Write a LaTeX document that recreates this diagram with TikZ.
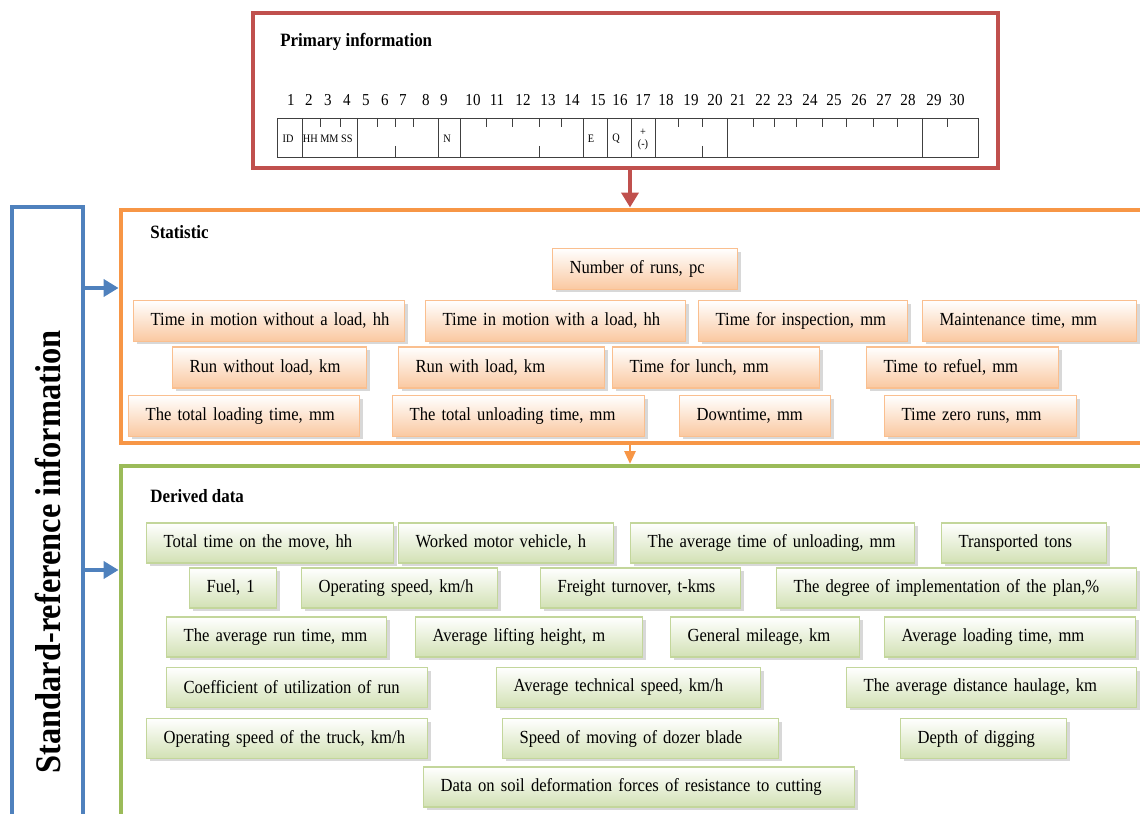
\documentclass[tikz,border=0pt]{standalone}
\usepackage{fontspec}
\setmainfont{Liberation Serif}[FakeStretch=0.9]
\usetikzlibrary{arrows.meta,shadows}

\definecolor{primred}{RGB}{192,80,77}
\definecolor{statorange}{RGB}{247,150,70}
\definecolor{derivgreen}{RGB}{155,187,89}
\definecolor{refblue}{RGB}{79,129,189}
\definecolor{statfill}{RGB}{250,200,160}
\definecolor{statline}{RGB}{250,191,143}
\definecolor{derivfill}{RGB}{210,225,180}
\definecolor{derivline}{RGB}{195,214,155}

\tikzset{
    frame/.style={draw, line width=2.3pt, inner sep=0pt},
    boxw/.style={text width=#1*0.02cm-0.1cm},
    databox/.style={anchor=west, minimum height=0.82cm, inner xsep=0.05cm, inner ysep=0pt,
        align=left, line width=0.7pt, font=\fontsize{10.5}{12}\selectfont,
        execute at begin node={\hspace*{0.29cm}},
        drop shadow={shadow xshift=0.06cm, shadow yshift=-0.06cm, fill=black!30}},
    statbox/.style={databox, draw=statline, top color=white, bottom color=statfill},
    derivbox/.style={databox, draw=derivline, top color=white, bottom color=derivfill, minimum height=0.8cm},
    heading/.style={anchor=west, inner sep=0pt, font=\bfseries\fontsize{10.7}{12}\selectfont},
    flowarrow/.style={line width=2.3pt, -{Triangle[width=0.34cm, length=0.3cm]}},
    cell/.style={font=\fontsize{6.5}{7}\selectfont, inner sep=0pt},
    grid/.style={line width=0.5pt, black!75}
}

\begin{document}
\begin{tikzpicture}[x=0.02cm, y=-0.02cm]
    \useasboundingbox (0,0) rectangle (1140,814);
    \clip (0,0) rectangle (1140,814);

    % Frames
    \node[frame, draw=primred, minimum width=14.9cm, minimum height=3.1cm] (primary) at (625.5,90.5) {};
    \node[frame, draw=statorange, minimum width=20.79cm, minimum height=4.67cm] (statistic) at (640.25,326.25) {};
    \node[frame, draw=derivgreen, minimum width=20.79cm, minimum height=7.88cm] (derived) at (640.25,663) {};
    \node[frame, draw=refblue, minimum width=1.42cm, minimum height=13.8cm] (stdref) at (47.5,552)
        {\rotatebox{90}{\bfseries\fontsize{20.5}{22}\selectfont Standard-reference information}};

    % Arrows between frames
    \coordinate (split) at (630,0);
    \coordinate (upper) at (0,288);
    \coordinate (lower) at (0,570);
    \draw[flowarrow, primred] (primary.south -| split) -- (statistic.north -| split);
    \draw[statorange, line width=1.6pt, -{Triangle[width=0.22cm, length=0.26cm]}]
        (statistic.south -| split) -- (derived.north -| split);
    \draw[flowarrow, refblue] (stdref.east |- upper) -- (statistic.west |- upper);
    \draw[flowarrow, refblue] (stdref.east |- lower) -- (derived.west |- lower);

    % Primary information
    \node[heading] (primtitle) at (280,42) {Primary information};
    \foreach \n/\x in {1/291,2/309,3/328,4/347,5/366,6/385,7/403,8/426,9/444,10/473,
        11/497,12/523,13/548,14/572,15/598,16/620,17/643,18/666,19/691,20/715,
        21/738,22/763,23/785,24/810,25/834,26/859,27/884,28/908,29/934,30/957}
        \node[font=\fontsize{9.5}{10}\selectfont, inner sep=0pt] at (\x,100) {\n};
    \draw[grid] (277,118) rectangle (978,157);
    \foreach \x in {302,357,438,460,583,607,631,655,727,922}
        \draw[grid] (\x,118) -- (\x,157);
    \foreach \x in {320,340,377,395,413,486,512,539,561,678,702,753,774,796,822,846,873,897,947}
        \draw[grid] (\x,118) -- (\x,127);
    \foreach \x in {395,539,702}
        \draw[grid] (\x,146) -- (\x,157);
    \node[cell] at (288,139) {ID};
    \node[cell, anchor=west] at (302.5,139) {HH MM SS};
    \node[cell] at (447,139) {N};
    \node[cell] at (591,139) {E};
    \node[cell] at (616,139) {Q};
    \node[cell] at (643,132) {+};
    \node[cell] at (643,145) {(-)};

    % Statistic
    \node[heading] (stattitle) at (150,232) {Statistic};
    \node[statbox, boxw=185] (runs) at (552,269) {Number of runs, pc};
    \node[statbox, boxw=271] (motionfree) at (133,321) {Time in motion without a load, hh};
    \node[statbox, boxw=260] (motionload) at (425,321) {Time in motion with a load,\ hh};
    \node[statbox, boxw=209] (inspection) at (698,321) {Time\ for inspection, mm};
    \node[statbox, boxw=214] (maintenance) at (922,321) {Maintenance time, mm};
    \node[statbox, boxw=194] (runfree) at (172,367.5) {Run without load, km};
    \node[statbox, boxw=206] (runload) at (398,367.5) {Run with load, km};
    \node[statbox, boxw=207] (lunch) at (612,367.5) {Time\ for lunch, mm};
    \node[statbox, boxw=192] (refuel) at (866,367.5) {Time to refuel, mm};
    \node[statbox, boxw=231] (loading) at (128,416) {The total loading time, mm};
    \node[statbox, boxw=252] (unloading) at (392,416) {The total unloading time, mm};
    \node[statbox, boxw=151] (downtime) at (679,416) {Downtime, mm};
    \node[statbox, boxw=192] (zeroruns) at (884,416) {Time\ zero runs, mm};

    % Derived data
    \node[heading] (derivtitle) at (150,496) {Derived data};
    \node[derivbox, boxw=247] (totalmove) at (146,543) {Total time on the move, hh};
    \node[derivbox, boxw=215] (worked) at (398,543) {Worked motor vehicle, h};
    \node[derivbox, boxw=284] (avgunload) at (630,543) {The average time of unloading, mm};
    \node[derivbox, boxw=165] (tons) at (941,543) {Transported tons};
    \node[derivbox, boxw=87] (fuel) at (189,588) {Fuel, 1};
    \node[derivbox, boxw=196] (opspeed) at (301,588) {Operating speed, km/h};
    \node[derivbox, boxw=200] (freight) at (540,588) {Freight turnover, t-kms};
    \node[derivbox, boxw=360] (plan) at (776,588) {The degree of implementation of the plan,\%};
    \node[derivbox, boxw=220] (avgrun) at (166,637) {The average run time, mm};
    \node[derivbox, boxw=227] (lifting) at (415,637) {Average lifting height, m};
    \node[derivbox, boxw=189] (mileage) at (670,637) {General mileage, km};
    \node[derivbox, boxw=251] (avgload) at (884,637) {Average loading time, mm};
    \node[derivbox, boxw=261] (coeff) at (166,687.5) {Coefficient of utilization of run};
    \node[derivbox, boxw=264] (techspeed) at (496,687.5) {Average technical speed, km/h};
    \node[derivbox, boxw=290] (haulage) at (846,687.5) {The average distance haulage, km};
    \node[derivbox, boxw=281] (truckspeed) at (146,738.5) {Operating speed of the truck, km/h};
    \node[derivbox, boxw=276] (dozer) at (502,738.5) {Speed of moving of dozer blade};
    \node[derivbox, boxw=166] (digging) at (900,738.5) {Depth of digging};
    \node[derivbox, boxw=431] (soil) at (423,787) {Data on soil\ deformation forces of resistance to cutting};
\end{tikzpicture}
\end{document}
